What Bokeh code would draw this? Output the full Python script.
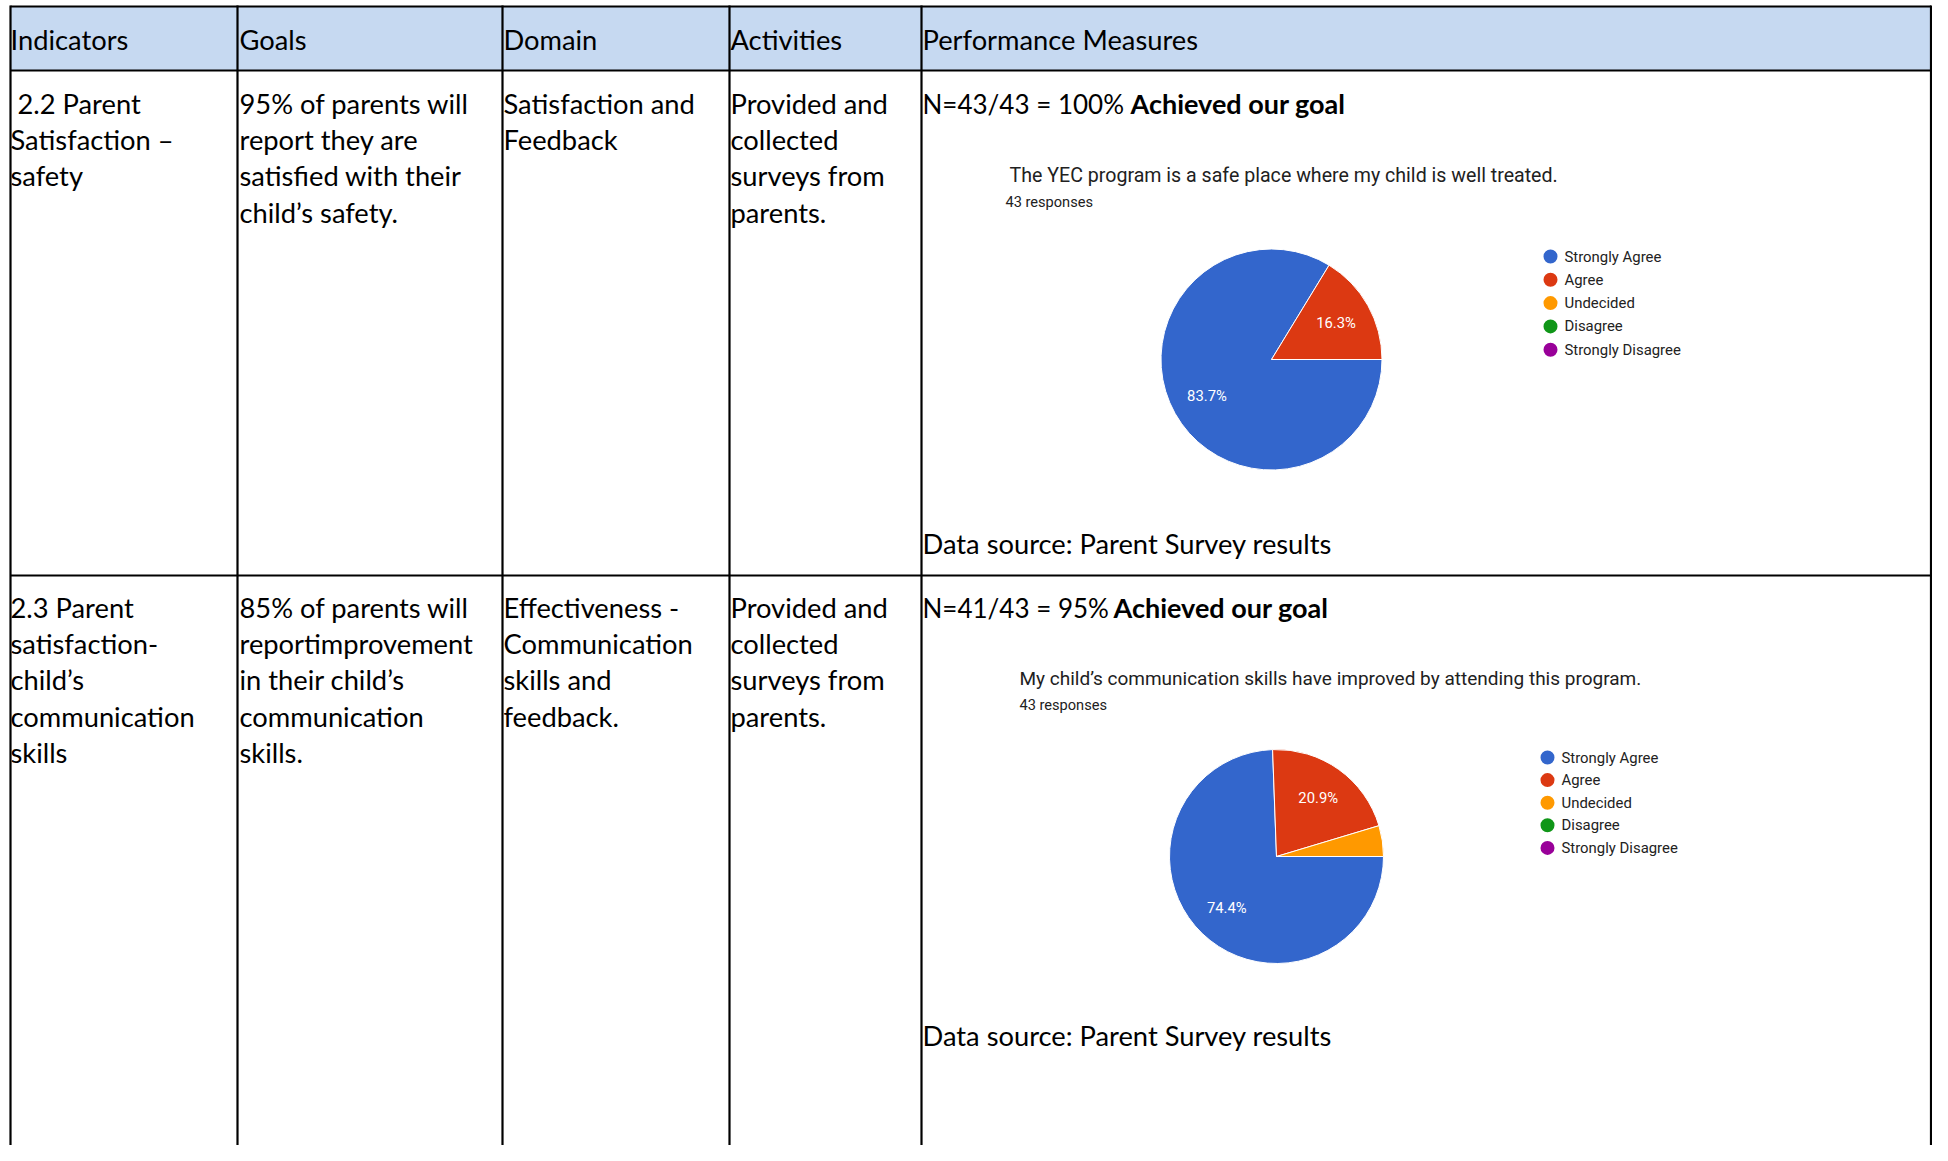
import math
from bokeh.plotting import figure
from bokeh.models import Range1d, ColumnDataSource
from bokeh.core.properties import value
from bokeh.embed import file_html
from bokeh.resources import INLINE

# ---------------- data ----------------
headers = ["Indicators", "Goals", "Domain", "Activities", "Performance Measures"]

row1_cells = [
    ["\u00a02.2 Parent", "Satisfaction \u2013", "safety"],
    ["95% of parents will", "report they are", "satisfied with their", "child\u2019s safety."],
    ["Satisfaction and", "Feedback"],
    ["Provided and", "collected", "surveys from", "parents."],
]
row2_cells = [
    ["2.3 Parent", "satisfaction-", "child\u2019s", "communication", "skills"],
    ["85% of parents will", "reportimprovement", "in their child\u2019s", "communication", "skills."],
    ["Effectiveness -", "Communication", "skills and", "feedback."],
    ["Provided and", "collected", "surveys from", "parents."],
]

measure1_plain = "N=43/43 = 100%"
measure2_plain = "N=41/43 = 95%"
measure_bold = "Achieved our goal"
data_source_text = "Data source: Parent Survey results"

categories = ["Strongly Agree", "Agree", "Undecided", "Disagree", "Strongly Disagree"]
cat_colors = ["#3366CC", "#DC3912", "#FF9900", "#109618", "#990099"]

safety_title = "The YEC program is a safe place where my child is well treated."
safety_counts = [36, 7, 0, 0, 0]
comm_title = "My child\u2019s communication skills have improved by attending this program."
comm_counts = [32, 9, 2, 0, 0]
responses_label = "43 responses"

# ---------------- layout ----------------
W, H = 1932, 1145
p = figure(width=W, height=H, output_backend="svg", toolbar_location=None,
           x_range=Range1d(0, W), y_range=Range1d(H, 0),
           min_border=0)
p.axis.visible = False
p.grid.visible = False
p.outline_line_color = None
p.background_fill_color = "white"

BODY_FONT = value("Lato")
BODY_SIZE = "27.3px"
CHART_FONT = value("Roboto")

col_x = [10, 237, 502, 729, 921, 1930.5]
top_y, head_y, row1_y, bot_y = 6, 70, 575, H

# header background
p.quad(left=[col_x[0]], right=[col_x[-1]], top=[top_y], bottom=[head_y],
       fill_color="#C6D9F1", line_color=None)

# grid lines
p.segment(x0=[col_x[0]] * 3, x1=[col_x[-1]] * 3, y0=[top_y, head_y, row1_y],
          y1=[top_y, head_y, row1_y], line_color="black", line_width=2.2)
p.segment(x0=col_x, x1=col_x, y0=[top_y - 1] * len(col_x), y1=[bot_y] * len(col_x),
          line_color="black", line_width=2.2)

text_x = [10, 239, 503, 730, 922]

# header texts
p.text(x=text_x, y=[39] * 5, text=headers, text_font=BODY_FONT,
       text_font_size=BODY_SIZE, text_baseline="middle", text_color="black")

LINE_H = 36.2


def cell_lines(cells, y0):
    xs, ys, ts = [], [], []
    for ci, lines in enumerate(cells):
        for li, t in enumerate(lines):
            xs.append(text_x[ci])
            ys.append(y0 + li * LINE_H)
            ts.append(t)
    return xs, ys, ts


for cells, y0 in [(row1_cells, 103), (row2_cells, 607)]:
    xs, ys, ts = cell_lines(cells, y0)
    p.text(x=xs, y=ys, text=ts, text_font=BODY_FONT, text_font_size=BODY_SIZE,
           text_baseline="middle", text_color="black")

# performance measure headings
p.text(x=[922, 922], y=[103, 607], text=[measure1_plain, measure2_plain],
       text_font=BODY_FONT, text_font_size="26px", text_baseline="middle")
p.text(x=[1130, 1113], y=[103, 607], text=[measure_bold, measure_bold],
       text_font=BODY_FONT, text_font_size="27px", text_baseline="middle",
       text_font_style="bold")
p.text(x=[922, 922], y=[543, 1035], text=[data_source_text] * 2,
       text_font=BODY_FONT, text_font_size=BODY_SIZE, text_baseline="middle")


def draw_pie(counts, cx, cy, r, title, title_size, tx, ty, rx, ry, lx, ly0, lstep):
    total = float(sum(counts))
    starts, ends, cols, labs, lab_x, lab_y = [], [], [], [], [], []
    cum = 0.0
    for c, col in zip(counts, cat_colors):
        if c <= 0:
            continue
        frac = c / total
        a0 = -2 * math.pi * cum
        a1 = -2 * math.pi * (cum + frac)
        starts.append(a0)
        ends.append(a1)
        cols.append(col)
        mid = (a0 + a1) / 2.0
        if frac >= 0.05:
            labs.append(f"{frac * 100:.1f}%")
            lab_x.append(cx + 0.67 * r * math.cos(mid))
            lab_y.append(cy - 0.67 * r * math.sin(mid))
        cum += frac
    src = ColumnDataSource(dict(x=[cx] * len(starts), y=[cy] * len(starts),
                                s=starts, e=ends, c=cols))
    p.wedge(x="x", y="y", radius=r, radius_units="screen", start_angle="s",
            end_angle="e", direction="clock", fill_color="c",
            line_color="white", line_width=1, source=src)
    p.text(x=lab_x, y=lab_y, text=labs, text_font=CHART_FONT,
           text_font_size="14.8px", text_color="white", text_align="center",
           text_baseline="middle")
    p.text(x=[tx], y=[ty], text=[title], text_font=CHART_FONT,
           text_font_size=title_size, text_color="#212121", text_baseline="middle")
    p.text(x=[rx], y=[ry], text=[responses_label], text_font=CHART_FONT,
           text_font_size="14.6px", text_color="#212121", text_baseline="middle")
    ly = [ly0 + i * lstep for i in range(len(categories))]
    p.scatter(x=[lx] * len(categories), y=ly, size=14, marker="circle",
              fill_color=cat_colors, line_color=None)
    p.text(x=[lx + 14] * len(categories), y=ly, text=categories,
           text_font=CHART_FONT, text_font_size="14.9px", text_color="#222222",
           text_baseline="middle")


draw_pie(safety_counts, 1271, 359, 110.5, safety_title, "19.6px", 1009, 175,
         1005, 201, 1550, 256, 23.3)
draw_pie(comm_counts, 1276, 856, 107, comm_title, "19px", 1019, 678,
         1019, 704, 1547, 757, 22.6)

open("out.html", "w").write(file_html(p, INLINE))
